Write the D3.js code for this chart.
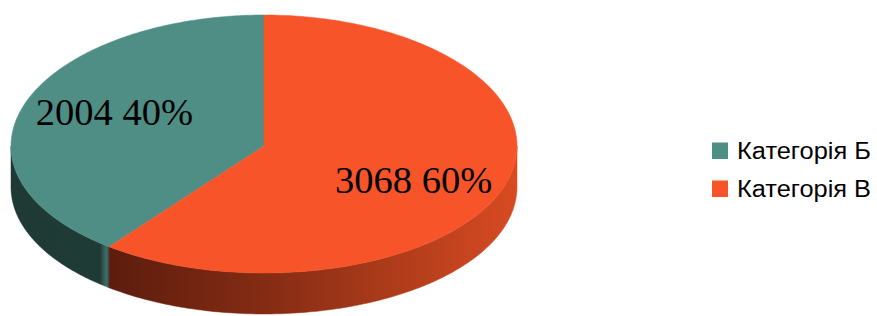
<!DOCTYPE html>
<html><head><meta charset="utf-8">
<script src="https://cdn.jsdelivr.net/npm/d3@7"></script>
<style>html,body{margin:0;padding:0;background:#fff;}svg{display:block;}</style>
</head><body>
<svg id="chart" width="877" height="316"></svg>
<script>
const categories = ["Категорія Б", "Категорія В"];
const values = [2004, 3068];
const percentLabels = ["40%", "60%"];
const topColors = ["#4f8e84", "#f8542a"];

const svg = d3.select("#chart");
const cx = 264, cy = 146, rx = 253, ry = 129, depth = 41;

// counter-clockwise from 12 o'clock
const pie = d3.pie().sort(null).startAngle(2 * Math.PI).endAngle(0);
const arcs = pie(values);

function px(a, r = 1) { return cx + rx * r * Math.sin(a); }
function py(a, r = 1) {
  const v = -Math.cos(a) * r;
  return cy + ry * v - 2 * v * v;
}
function arcPts(a0, a1, n = 120, dy = 0) {
  const pts = [];
  for (let i = 0; i <= n; i++) {
    const a = a0 + (a1 - a0) * i / n;
    pts.push([px(a), py(a) + dy]);
  }
  return pts;
}
const line = d3.line();

const defs = svg.append("defs");
const gOr = defs.append("linearGradient").attr("id", "sideOr")
  .attr("gradientUnits", "userSpaceOnUse").attr("x1", 109).attr("x2", 517).attr("y1", 0).attr("y2", 0);
gOr.append("stop").attr("offset", 0).attr("stop-color", "#5c1c0d");
gOr.append("stop").attr("offset", 0.45).attr("stop-color", "#8c2f15");
gOr.append("stop").attr("offset", 1).attr("stop-color", "#d84b22");
const gTe = defs.append("linearGradient").attr("id", "sideTe")
  .attr("gradientUnits", "userSpaceOnUse").attr("x1", 11).attr("x2", 110).attr("y1", 0).attr("y2", 0);
gTe.append("stop").attr("offset", 0).attr("stop-color", "#1f3a35");
gTe.append("stop").attr("offset", 0.9).attr("stop-color", "#1f3b36");
gTe.append("stop").attr("offset", 0.96).attr("stop-color", "#3f6e66");
gTe.append("stop").attr("offset", 1).attr("stop-color", "#2a4d47");
const sideFill = ["url(#sideTe)", "url(#sideOr)"];

// sides (front half only)
arcs.forEach((d, i) => {
  const lo = Math.min(d.startAngle, d.endAngle), hi = Math.max(d.startAngle, d.endAngle);
  const s = Math.max(lo, Math.PI / 2), e = Math.min(hi, 3 * Math.PI / 2);
  if (e <= s) return;
  const top = arcPts(s, e);
  const bot = arcPts(e, s, 120, depth);
  svg.append("path").attr("d", line(top.concat(bot)) + "Z")
    .attr("fill", sideFill[i]).attr("stroke", sideFill[i]).attr("stroke-width", 0.5);
});

// top faces
arcs.forEach((d, i) => {
  const pts = [[cx, cy]].concat(arcPts(d.startAngle, d.endAngle, 200));
  svg.append("path").attr("d", line(pts) + "Z")
    .attr("fill", topColors[i]).attr("stroke", topColors[i]).attr("stroke-width", 0.5);
});

// labels
const fx = 0.625, fy = 0.82;
arcs.forEach((d, i) => {
  const m = (d.startAngle + d.endAngle) / 2;
  svg.append("text")
    .attr("x", cx + rx * fx * Math.sin(m))
    .attr("y", cy - ry * fy * Math.cos(m))
    .attr("dy", "0.34em")
    .attr("text-anchor", "middle")
    .attr("font-family", "'Liberation Serif', 'Times New Roman', serif")
    .attr("font-size", 38.5)
    .attr("fill", "#000")
    .text(values[i] + " " + percentLabels[i]);
});

// legend
const leg = svg.append("g");
const ly = d3.scaleBand().domain(categories).range([134, 210]);
categories.forEach((c, i) => {
  const y0 = ly(c);
  leg.append("rect").attr("x", 712).attr("y", y0 + 8.5).attr("width", 16).attr("height", 16.5)
    .attr("fill", topColors[i]);
  leg.append("text").attr("x", 737).attr("y", y0 + 25)
    .attr("font-family", "'Liberation Sans', Arial, sans-serif").attr("font-size", 23)
    .attr("textLength", 134).attr("lengthAdjust", "spacingAndGlyphs")
    .attr("fill", "#000").text(c);
});
</script>
</body></html>
